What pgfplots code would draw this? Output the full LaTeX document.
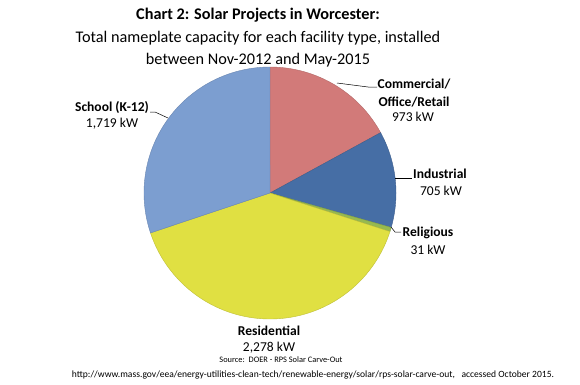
\documentclass[border=0pt]{standalone}
\usepackage{pgfplots}
\pgfplotsset{compat=1.18}
\usepackage{pgfplotstable}
\usepackage{fontspec}
\setmainfont{Carlito}
\usetikzlibrary{fadings}
\definecolor{comm}{RGB}{210,122,121}
\definecolor{ind}{RGB}{70,110,165}
\definecolor{rel}{RGB}{150,185,80}
\definecolor{res}{RGB}{224,224,66}
\definecolor{sch}{RGB}{124,158,208}
\pgfdeclareradialshading{rimshade}{\pgfpoint{0bp}{0bp}}{color(0bp)=(black); color(32bp)=(black); color(50bp)=(white)}
\pgfdeclarefading{rim}{\pgfuseshading{rimshade}}
\pgfplotstableread{
cat value
Commercial 973
Industrial 705
Religious 31
Residential 2278
School 1719
}\piedata
\begin{document}
\begin{tikzpicture}
\pgfplotstablegetelem{0}{value}\of\piedata \let\va\pgfplotsretval
\pgfplotstablegetelem{1}{value}\of\piedata \let\vb\pgfplotsretval
\pgfplotstablegetelem{2}{value}\of\piedata \let\vc\pgfplotsretval
\pgfplotstablegetelem{3}{value}\of\piedata \let\vd\pgfplotsretval
\pgfplotstablegetelem{4}{value}\of\piedata \let\ve\pgfplotsretval
\pgfmathsetmacro\tot{\va+\vb+\vc+\vd+\ve}
\pgfmathsetmacro\aA{90}
\pgfmathsetmacro\aB{\aA-\va/\tot*360}
\pgfmathsetmacro\aC{\aB-\vb/\tot*360}
\pgfmathsetmacro\aD{\aC-\vc/\tot*360}
\pgfmathsetmacro\aE{\aD-\vd/\tot*360}
\pgfmathsetmacro\aF{\aE-\ve/\tot*360}
\begin{axis}[x=1bp,y=1bp,xmin=0,xmax=580,ymin=0,ymax=384,
  hide axis, clip=false, scale only axis]
\path (rel axis cs:0,0) rectangle (rel axis cs:1,1);
\def\cx{270}\def\cy{191}\def\rr{126}
\addplot[fill=comm, draw=comm!85!black, line width=0.4pt, domain=\aB:\aA, samples=60, variable=\t] ({\cx+\rr*cos(\t)},{\cy+\rr*sin(\t)}) -- (axis cs:\cx,\cy) -- cycle;
\addplot[fill=ind, draw=ind!85!black, line width=0.4pt, domain=\aC:\aB, samples=60, variable=\t] ({\cx+\rr*cos(\t)},{\cy+\rr*sin(\t)}) -- (axis cs:\cx,\cy) -- cycle;
\addplot[fill=rel, draw=rel!85!black, line width=0.4pt, domain=\aD:\aC, samples=10, variable=\t] ({\cx+\rr*cos(\t)},{\cy+\rr*sin(\t)}) -- (axis cs:\cx,\cy) -- cycle;
\addplot[fill=res, draw=res!85!black, line width=0.4pt, domain=\aE:\aD, samples=100, variable=\t] ({\cx+\rr*cos(\t)},{\cy+\rr*sin(\t)}) -- (axis cs:\cx,\cy) -- cycle;
\addplot[fill=sch, draw=sch!85!black, line width=0.4pt, domain=\aF:\aE, samples=80, variable=\t] ({\cx+\rr*cos(\t)},{\cy+\rr*sin(\t)}) -- (axis cs:\cx,\cy) -- cycle;
\fill[black, fill opacity=0.2, path fading=rim, fit fading=true] (axis cs:\cx,\cy) circle[radius=126bp];
% title
\node[font=\fontsize{16.3}{18}\selectfont\bfseries] at (axis cs:258,369) {Chart 2: Solar Projects in Worcester:};
\node[font=\fontsize{16.3}{18}\selectfont] at (axis cs:258,346) {Total nameplate capacity for each facility type, installed};
\node[font=\fontsize{16.3}{18}\selectfont] at (axis cs:258,324) {between Nov-2012 and May-2015};
% labels
\tikzset{lab/.style={font=\fontsize{13.6}{15}\selectfont\bfseries}, val/.style={font=\fontsize{13.6}{15}\selectfont}}
\node[lab] at (axis cs:414,300) {Commercial/};
\node[lab] at (axis cs:414,282) {Office/Retail};
\node[val] at (axis cs:413,267) {973 kW};
\draw[black, line width=0.5pt] (axis cs:337,301) -- (axis cs:368,297) -- (axis cs:377,297);
\node[lab] at (axis cs:440,210) {Industrial};
\node[val] at (axis cs:441,193) {705 kW};
\draw[black, line width=0.5pt] (axis cs:395,206) -- (axis cs:412,206);
\node[lab] at (axis cs:428,151) {Religious};
\node[val] at (axis cs:428,134) {31 kW};
\draw[black, line width=0.5pt] (axis cs:391,157) -- (axis cs:395,152) -- (axis cs:401,152);
\node[lab] at (axis cs:112,277) {School (K-12)};
\node[val] at (axis cs:112,260) {1,719 kW};
\draw[black, line width=0.5pt] (axis cs:150,272) -- (axis cs:155,272) -- (axis cs:168,266);
\node[lab] at (axis cs:269,53) {Residential};
\node[val] at (axis cs:269,36) {2,278 kW};
% source
\node[font=\fontsize{8.4}{10}\selectfont] at (axis cs:281,24) {Source:\ \ DOER - RPS Solar Carve-Out};
\node[font=\fontsize{9.6}{10}\selectfont] at (axis cs:313,9) {http://www.mass.gov/eea/energy-utilities-clean-tech/renewable-energy/solar/rps-solar-carve-out,\ \ \ accessed October 2015.};
\end{axis}
\end{tikzpicture}
\end{document}
